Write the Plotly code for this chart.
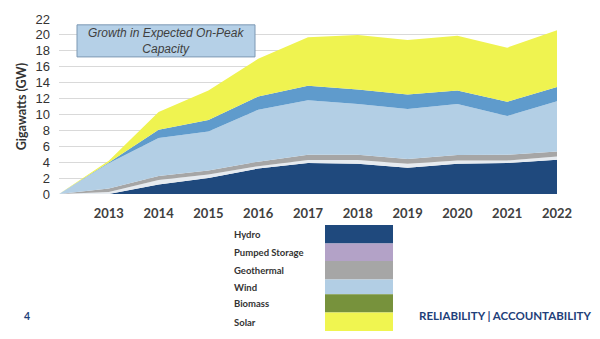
import plotly.graph_objects as go

# ---------------- data ----------------
years = [2012, 2013, 2014, 2015, 2016, 2017, 2018, 2019, 2020, 2021, 2022]
tick_years = [2013, 2014, 2015, 2016, 2017, 2018, 2019, 2020, 2021, 2022]

hydro = [0, 0, 1.2, 2.0, 3.2, 3.9, 3.8, 3.3, 3.8, 3.9, 4.3]
pumped_storage = [0, 0.25, 0.55, 0.45, 0.3, 0.38, 0.48, 0.5, 0.4, 0.3, 0.42]
geothermal = [0, 0.45, 0.52, 0.52, 0.57, 0.65, 0.65, 0.6, 0.7, 0.73, 0.61]
wind = [0, 3.17, 4.78, 4.89, 6.53, 6.87, 6.37, 6.3, 6.4, 4.87, 6.32]
biomass = [0, 0.1, 1.02, 1.44, 1.66, 1.8, 1.85, 1.8, 1.7, 1.8, 1.8]
solar = [0, 0.2, 2.23, 3.7, 4.74, 6.1, 6.85, 6.85, 6.9, 6.8, 7.15]

series_names = ["Hydro", "Pumped Storage", "Geothermal", "Wind", "Biomass", "Solar"]
series_values = [hydro, pumped_storage, geothermal, wind, biomass, solar]
area_colors = ["#1f497d", "#e6ebf0", "#a6a6a6", "#b3cfe5", "#5f9bcc", "#eff350"]
legend_colors = ["#1f497d", "#b3a2c7", "#a6a6a6", "#b2cee4", "#77923c", "#f0f550"]

y_ticks = list(range(0, 23, 2))

# ---------------- layout geometry (pixels) ----------------
W, H = 600, 339
PL, PR, PT, PB = 59, 557, 14, 194  # plot area


def px_x(x):
    return (x - PL) / (PR - PL)


def px_y(y):
    return (PB - y) / (PB - PT)


fig = go.Figure()
for name, vals, col in zip(series_names, series_values, area_colors):
    fig.add_trace(go.Scatter(
        x=years, y=vals, name=name, mode="lines", stackgroup="one",
        line=dict(width=0, color=col), fillcolor=col, hoverinfo="x+y+name",
    ))

shapes = []
annotations = []

# title box
shapes.append(dict(type="rect", xref="paper", yref="paper",
                   x0=px_x(77), x1=px_x(255), y0=px_y(53), y1=px_y(20),
                   fillcolor="#b5d0e7", line=dict(color="#7d98b3", width=1), layer="above"))
annotations.append(dict(xref="paper", yref="paper", x=px_x(166), y=px_y(36.5),
                        text="<i>Growth in Expected On-Peak<br>Capacity</i>", showarrow=False,
                        font=dict(family="Liberation Sans, Arial", size=12, color="#404040"),
                        xanchor="center", yanchor="middle"))

# custom legend
row_edges = [226, 245, 263, 282, 297, 316, 335]
label_y = [236, 254.5, 273, 290.5, 307, 326]
for i, (name, col) in enumerate(zip(series_names, legend_colors)):
    shapes.append(dict(type="rect", xref="paper", yref="paper",
                       x0=px_x(325), x1=px_x(393), y0=px_y(row_edges[i + 1]), y1=px_y(row_edges[i]),
                       fillcolor=col, line=dict(width=0)))
    annotations.append(dict(xref="paper", yref="paper", x=px_x(232), y=px_y(label_y[i]),
                            text="<b>" + name + "</b>", showarrow=False, xanchor="left", yanchor="middle",
                            font=dict(family="Lato, Liberation Sans", size=9.5, color="#333333")))

# footer
annotations.append(dict(xref="paper", yref="paper", x=px_x(22), y=px_y(319),
                        text="<b>4</b>", showarrow=False, xanchor="left", yanchor="middle",
                        font=dict(family="Lato, Liberation Sans", size=10.5, color="#1f3f7a")))
annotations.append(dict(xref="paper", yref="paper", x=px_x(593), y=px_y(319),
                        text="<b>RELIABILITY | ACCOUNTABILITY</b>", showarrow=False,
                        xanchor="right", yanchor="middle",
                        font=dict(family="Lato, Liberation Sans", size=11.5, color="#1f3f7a")))

fig.update_layout(
    width=W, height=H,
    margin=dict(l=PL, r=W - PR, t=PT, b=H - PB, pad=0),
    paper_bgcolor="white", plot_bgcolor="white",
    showlegend=False,
    shapes=shapes, annotations=annotations,
    xaxis=dict(range=[2012, 2022], tickvals=tick_years, ticktext=[str(t) for t in tick_years],
               showgrid=False, zeroline=False, showline=False, ticks="",
               ticklabelstandoff=10,
               tickfont=dict(family="Lato, Liberation Sans", size=13, color="#404040", weight="bold")),
    yaxis=dict(range=[0, 22], tickvals=y_ticks, showgrid=True, gridcolor="#d9d9d9", gridwidth=1,
               zeroline=False, showline=False, ticks="", ticklabelstandoff=8,
               tickfont=dict(family="Liberation Sans, Arial", size=13, color="#333333"),
               title=dict(text="<b>Gigawatts (GW)</b>", standoff=6,
                          font=dict(family="Lato, Liberation Sans", size=12.5, color="#333333"))),
)

fig.write_html("out.html")
